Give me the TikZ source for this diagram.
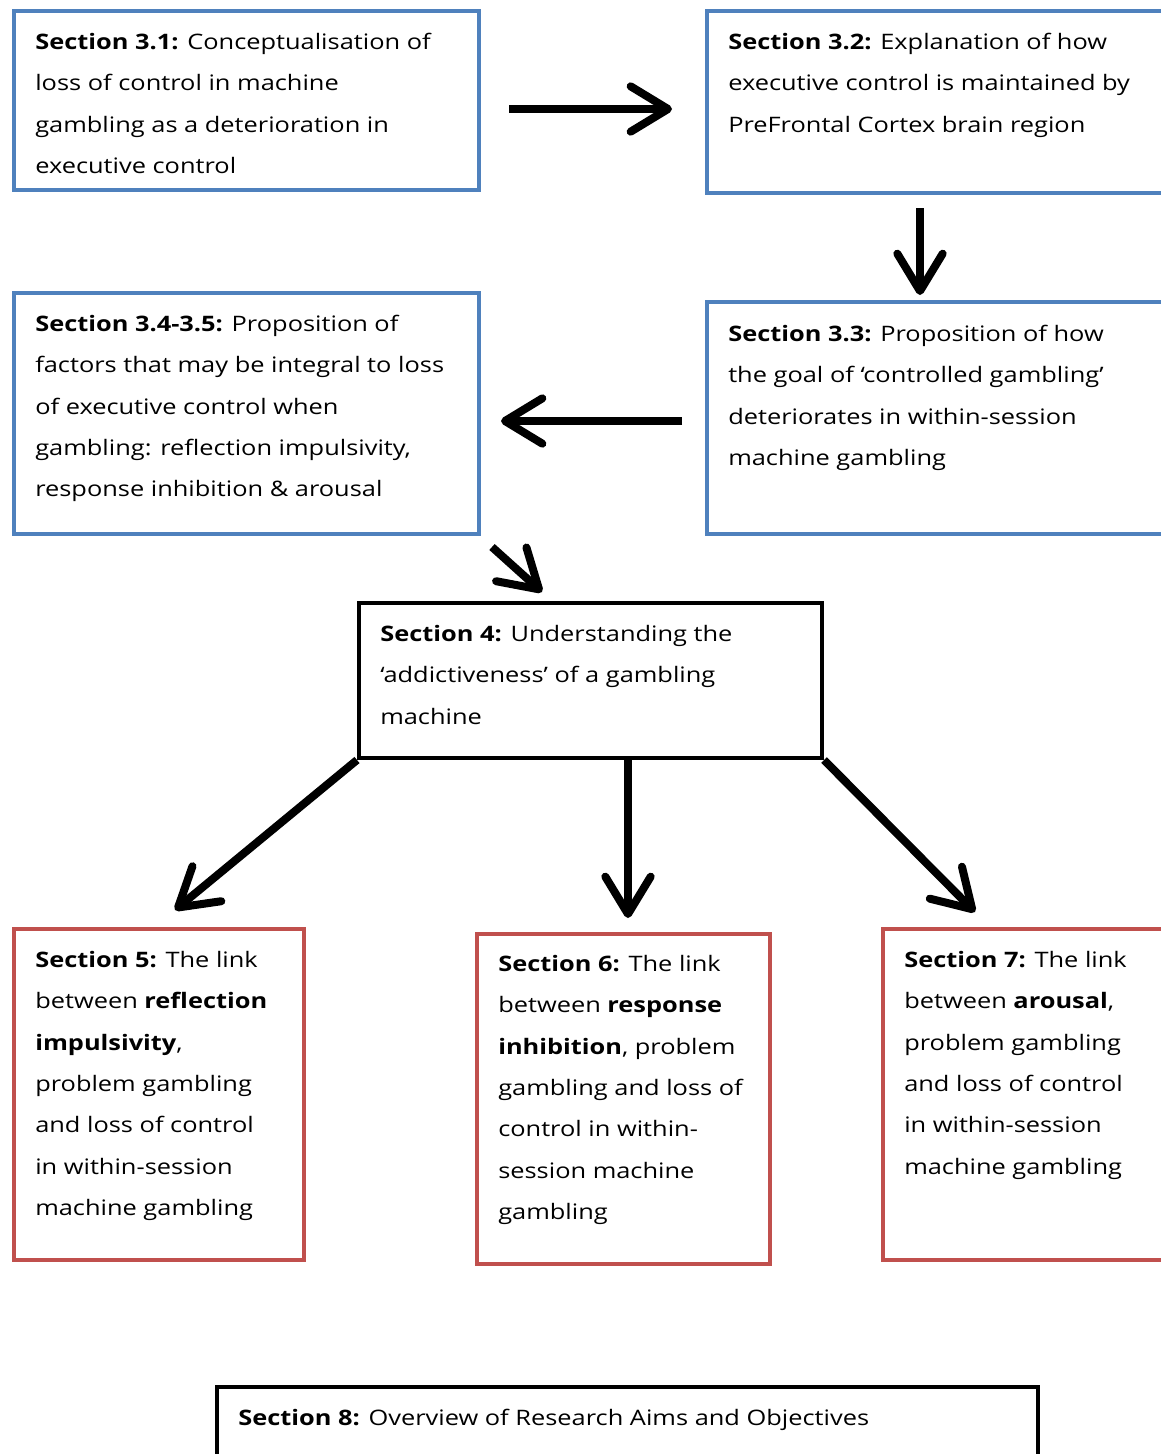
\documentclass[tikz,border=0pt]{standalone}
\usepackage{fontspec}
\setmainfont{Open Sans}[FakeStretch=1.19]
\usetikzlibrary{arrows.meta,calc}
\definecolor{boxblue}{RGB}{79,129,189}
\definecolor{boxred}{RGB}{192,80,77}
\begin{document}
\begin{tikzpicture}
[x=0.75pt,y=-0.75pt,%
  frame/.style={draw,line width=3pt,anchor=north west,inner sep=0pt},%
  blue box/.style={frame,boxblue},%
  red box/.style={frame,boxred},%
  black box/.style={frame,black},%
  box text/.style={anchor=north west,inner sep=0pt,align=left,
    font=\fontsize{16}{31}\selectfont,execute at begin node=\strut},%
  arr/.style={-{Straight Barb[length=28pt,width=34pt,round]},line width=6pt}]
\clip (0,0) rectangle (1161,1454);
% frames
\node[blue box,minimum width=348.75pt,minimum height=134.25pt] (b31) at (12,9) {};
\node[blue box,minimum width=352.5pt,minimum height=136.5pt] (b32) at (705,9) {};
\node[blue box,minimum width=352.5pt,minimum height=174pt] (b33) at (705,300) {};
\node[blue box,minimum width=348.75pt,minimum height=180.75pt] (b345) at (12,291) {};
\node[black box,minimum width=347.25pt,minimum height=116.25pt] (b4) at (357,601) {};
\node[red box,minimum width=217.5pt,minimum height=248.25pt] (b5) at (12,927) {};
\node[red box,minimum width=219.75pt,minimum height=247.5pt] (b6) at (475,932) {};
\node[red box,minimum width=225pt,minimum height=248.25pt] (b7) at (881,927) {};
\node[black box,minimum width=615.75pt,minimum height=75pt] (b8) at (215,1385) {};
% texts
\node[box text] (t31) at ($(b31.north west)+(23,24)$)
  {\textbf{Section 3.1:} Conceptualisation of\\loss of control in machine\\
   gambling as a deterioration in\\executive control};
\node[box text] (t32) at ($(b32.north west)+(23,24)$)
  {\textbf{Section 3.2:} Explanation of how\\executive control is maintained by\\
   PreFrontal Cortex brain region};
\node[box text] (t33) at ($(b33.north west)+(23,25)$)
  {\textbf{Section 3.3:} Proposition of how\\the goal of ‘controlled gambling’\\
   deteriorates in within-session\\machine gambling};
\node[box text] (t345) at ($(b345.north west)+(23,24)$)
  {\textbf{Section 3.4-3.5:} Proposition of\\factors that may be integral to loss\\
   of executive control when\\gambling: reflection impulsivity,\\
   response inhibition \& arousal};
\node[box text] (t4) at ($(b4.north west)+(23,24)$)
  {\textbf{Section 4:} Understanding the\\‘addictiveness’ of a gambling\\machine};
\node[box text] (t5) at ($(b5.north west)+(23,24)$)
  {\textbf{Section 5:} The link\\between \textbf{reflection}\\\textbf{impulsivity},\\
   problem gambling\\and loss of control\\in within-session\\machine gambling};
\node[box text] (t6) at ($(b6.north west)+(23,23)$)
  {\textbf{Section 6:} The link\\between \textbf{response}\\\textbf{inhibition}, problem\\
   gambling and loss of\\control in within-\\session machine\\gambling};
\node[box text] (t7) at ($(b7.north west)+(23,24)$)
  {\textbf{Section 7:} The link\\between \textbf{arousal},\\problem gambling\\
   and loss of control\\in within-session\\machine gambling};
\node[box text] (t8) at ($(b8.north west)+(23,11)$)
  {\textbf{Section 8:} Overview of Research Aims and Objectives};
% arrows
\draw[arr] ($(b31.north east)+(28,100)$) -- ($(b32.north west)+(-33,100)$);
\draw[arr] ($(b32.south west)+(215,13)$) -- ($(b33.north west)+(215,-5)$);
\draw[arr] ($(b33.north west)+(-23,121)$) -- ($(b345.north east)+(20,130)$);
\draw[arr] ($(b345.south east)+(11,11)$) -- ($(b4.north west)+(185,-9)$);
\draw[arr] (b4.south west) -- ($(b5.north west)+(163,-17)$);
\draw[arr] ($(b4.south west)+(271,0)$) -- ($(b6.north west)+(153,-14)$);
\draw[arr] (b4.south east) -- ($(b7.north west)+(94,-15)$);
\end{tikzpicture}
\end{document}
